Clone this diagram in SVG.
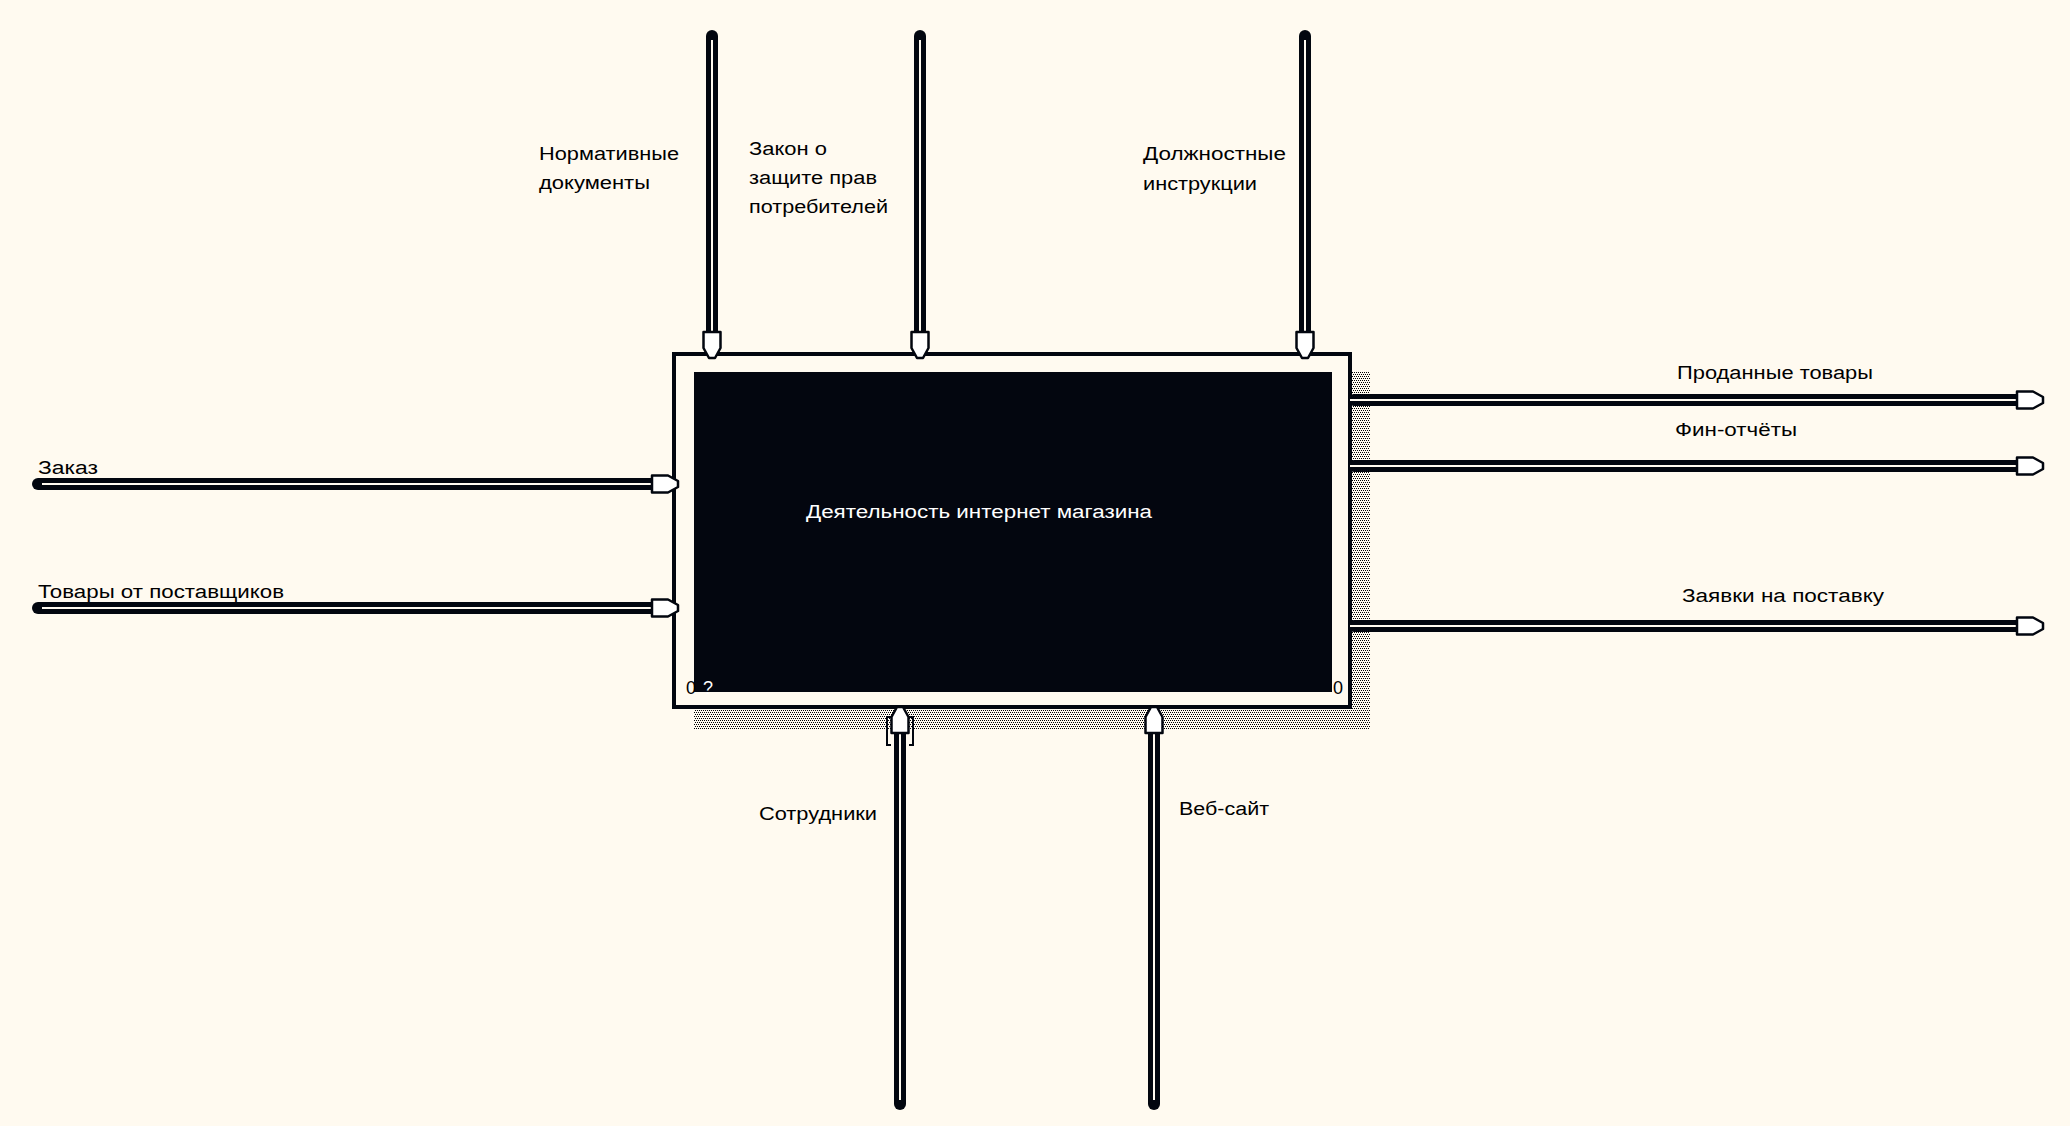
<svg xmlns="http://www.w3.org/2000/svg" width="2070" height="1126" viewBox="0 0 2070 1126">
<style>
.lbl{font-family:"Liberation Sans",Arial,sans-serif;font-size:18px;fill:#000}
.wl{font-family:"Liberation Sans",Arial,sans-serif;font-size:18px;fill:#fff}
.pipe{stroke:#02060f;stroke-width:12;stroke-linecap:round;fill:none}
.gap{stroke:#fffaf0;stroke-width:2;fill:none}
.head{fill:#fff;stroke:#02060f;stroke-width:2.5;stroke-linejoin:round}
</style>
<defs>
<pattern id="hatch" width="4" height="4" patternUnits="userSpaceOnUse">
<rect width="4" height="4" fill="#fffaf0"/>
<rect x="0" y="0" width="1" height="1" fill="#000"/>
<rect x="2" y="0" width="1" height="1" fill="#000"/>
<rect x="1" y="2" width="1" height="1" fill="#000"/>
<rect x="3" y="2" width="1" height="1" fill="#000"/>
</pattern>
<path id="ah" d="M-26,-8.5 L-10,-8.5 L0,-3 L0,3 L-10,8.5 L-26,8.5 Z"/>
</defs>
<rect width="2070" height="1126" fill="#fffaf0"/>

<g id="node-main">
<path d="M1352,372 H1370 V730 H694 V709 H1352 Z" fill="url(#hatch)"/>
<rect x="674" y="354" width="676" height="353" fill="#fffaf0" stroke="#02060f" stroke-width="4"/>
<rect x="694" y="372" width="638" height="320" fill="#03060f"/>
<text class="wl" x="806" y="518" textLength="346" lengthAdjust="spacingAndGlyphs">Деятельность интернет магазина</text>
<text class="lbl" x="686" y="694">0</text>
<text class="wl" x="703" y="694">?</text>
<text class="lbl" x="1333" y="694">0</text>
</g>

<g id="connectors">
<g id="c-norm">
<line class="pipe" x1="712" y1="36" x2="712" y2="336"/>
<line class="gap" x1="712" y1="40" x2="712" y2="336"/>
<use href="#ah" class="head" transform="translate(712,358) rotate(90)"/>
</g>
<g id="c-zakon">
<line class="pipe" x1="920" y1="36" x2="920" y2="336"/>
<line class="gap" x1="920" y1="40" x2="920" y2="336"/>
<use href="#ah" class="head" transform="translate(920,358) rotate(90)"/>
</g>
<g id="c-dolzh">
<line class="pipe" x1="1305" y1="36" x2="1305" y2="336"/>
<line class="gap" x1="1305" y1="40" x2="1305" y2="336"/>
<use href="#ah" class="head" transform="translate(1305,358) rotate(90)"/>
</g>
<g id="c-zakaz">
<line class="pipe" x1="38" y1="484" x2="655" y2="484"/>
<line class="gap" x1="42" y1="484" x2="655" y2="484"/>
<use href="#ah" class="head" transform="translate(678,484)"/>
</g>
<g id="c-tovary">
<line class="pipe" x1="38" y1="608" x2="655" y2="608"/>
<line class="gap" x1="42" y1="608" x2="655" y2="608"/>
<use href="#ah" class="head" transform="translate(678,608)"/>
</g>
<g id="c-prod">
<line class="pipe" x1="1354" y1="400" x2="2020" y2="400"/>
<line class="gap" x1="1350" y1="400" x2="2020" y2="400"/>
<use href="#ah" class="head" transform="translate(2043,400)"/>
</g>
<g id="c-fin">
<line class="pipe" x1="1354" y1="466" x2="2020" y2="466"/>
<line class="gap" x1="1350" y1="466" x2="2020" y2="466"/>
<use href="#ah" class="head" transform="translate(2043,466)"/>
</g>
<g id="c-zayav">
<line class="pipe" x1="1354" y1="626" x2="2020" y2="626"/>
<line class="gap" x1="1350" y1="626" x2="2020" y2="626"/>
<use href="#ah" class="head" transform="translate(2043,626)"/>
</g>
<g id="c-sotr">
<line class="pipe" x1="900" y1="730" x2="900" y2="1104"/>
<line class="gap" x1="900" y1="730" x2="900" y2="1100"/>
<use href="#ah" class="head" transform="translate(900,707) rotate(-90)"/>
<path d="M891,717 H887 V745 H891 M909,717 H913 V745 H909" fill="none" stroke="#02060f" stroke-width="2"/>
</g>
<g id="c-veb">
<line class="pipe" x1="1154" y1="730" x2="1154" y2="1104"/>
<line class="gap" x1="1154" y1="730" x2="1154" y2="1100"/>
<use href="#ah" class="head" transform="translate(1154,707) rotate(-90)"/>
</g>
</g>

<g id="labels">
<text class="lbl" x="539" y="160" textLength="140" lengthAdjust="spacingAndGlyphs">Нормативные</text>
<text class="lbl" x="539" y="189" textLength="111" lengthAdjust="spacingAndGlyphs">документы</text>
<text class="lbl" x="749" y="155" textLength="78" lengthAdjust="spacingAndGlyphs">Закон о</text>
<text class="lbl" x="749" y="184" textLength="128" lengthAdjust="spacingAndGlyphs">защите прав</text>
<text class="lbl" x="749" y="213" textLength="139" lengthAdjust="spacingAndGlyphs">потребителей</text>
<text class="lbl" x="1143" y="160" textLength="143" lengthAdjust="spacingAndGlyphs">Должностные</text>
<text class="lbl" x="1143" y="190" textLength="114" lengthAdjust="spacingAndGlyphs">инструкции</text>
<text class="lbl" x="38" y="474" textLength="60" lengthAdjust="spacingAndGlyphs">Заказ</text>
<text class="lbl" x="38" y="598" textLength="246" lengthAdjust="spacingAndGlyphs">Товары от поставщиков</text>
<text class="lbl" x="1677" y="379" textLength="196" lengthAdjust="spacingAndGlyphs">Проданные товары</text>
<text class="lbl" x="1675" y="436" textLength="122" lengthAdjust="spacingAndGlyphs">Фин-отчёты</text>
<text class="lbl" x="1682" y="602" textLength="202" lengthAdjust="spacingAndGlyphs">Заявки на поставку</text>
<text class="lbl" x="759" y="820" textLength="118" lengthAdjust="spacingAndGlyphs">Сотрудники</text>
<text class="lbl" x="1179" y="815" textLength="90" lengthAdjust="spacingAndGlyphs">Веб-сайт</text>
</g>
</svg>
